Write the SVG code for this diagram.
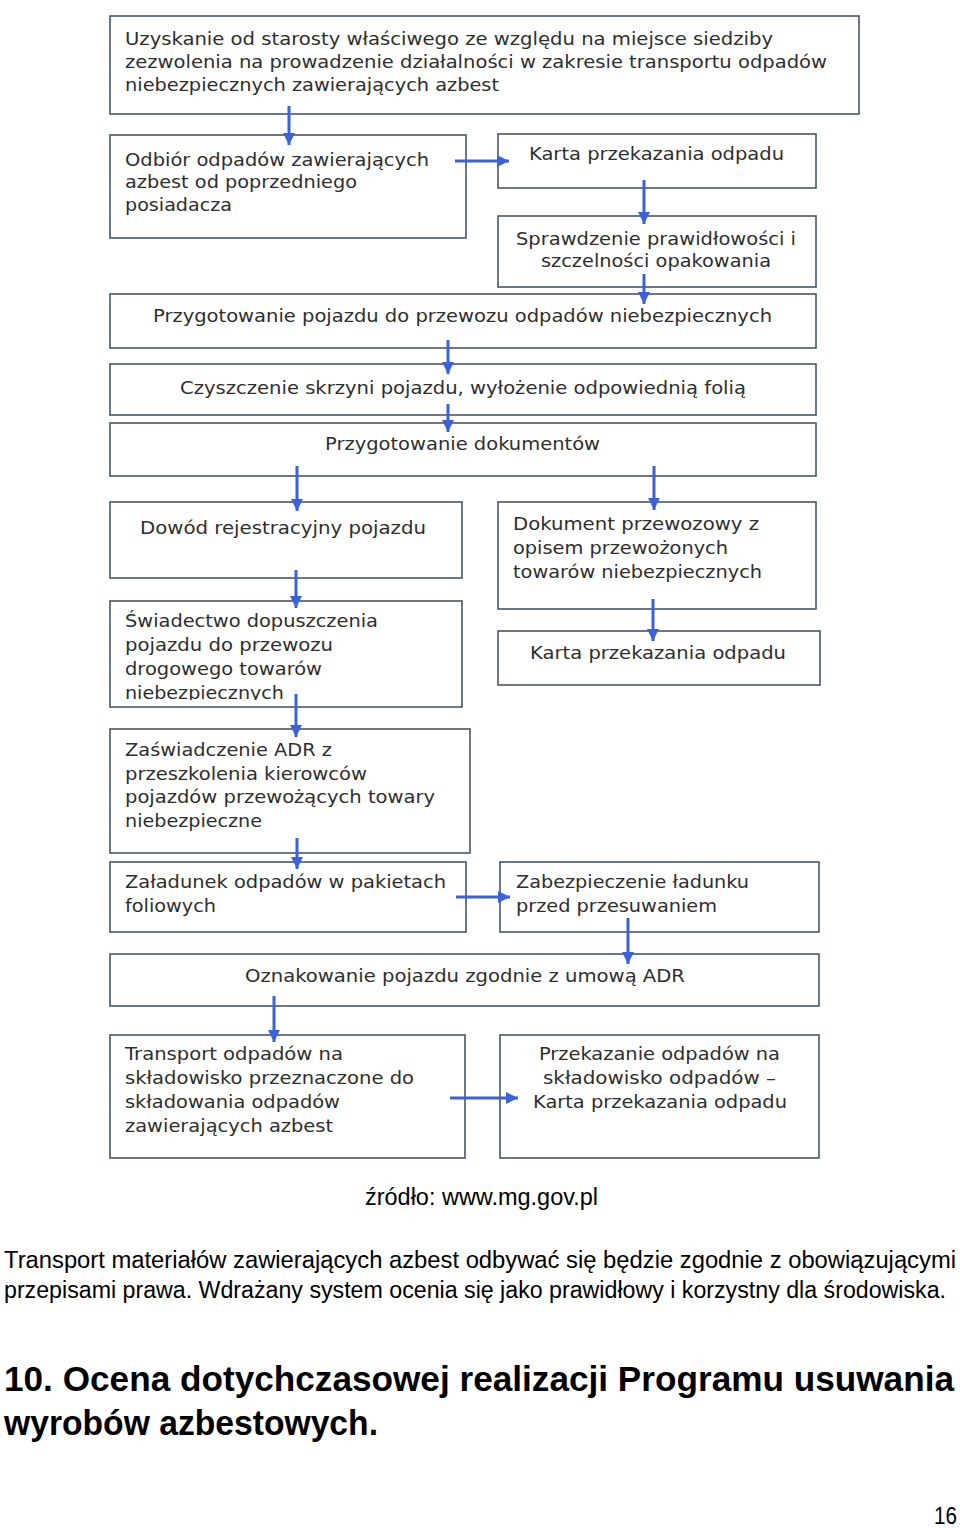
<svg xmlns="http://www.w3.org/2000/svg" width="960" height="1528" viewBox="0 0 960 1528">
<style>
.box{fill:#ffffff;stroke:#4a5668;stroke-width:1.6}
.t{font-family:"DejaVu Sans","Verdana",sans-serif;font-size:17.5px;fill:#2e2e2e}
.conn line{stroke:#3b62d6;stroke-width:3}
.p{font-family:"Liberation Sans",Arial,sans-serif;font-size:23px;fill:#000}
.h{font-family:"Liberation Sans",Arial,sans-serif;font-size:32px;font-weight:bold;fill:#000}
</style>
<defs>
<marker id="ah" markerUnits="userSpaceOnUse" markerWidth="12" markerHeight="12" refX="12" refY="6" orient="auto">
<path d="M0,0 L12,6 L0,12 z" fill="#3b62d6"/>
</marker>
<clipPath id="clipSw"><rect x="110" y="600" width="352" height="100"/></clipPath>
</defs>
<rect width="960" height="1528" fill="#ffffff"/>

<g id="n1"><rect class="box" x="110" y="16" width="749" height="98"/>
<text class="t" x="125" y="45" textLength="648" lengthAdjust="spacingAndGlyphs">Uzyskanie od starosty właściwego ze względu na miejsce siedziby</text>
<text class="t" x="125" y="68" textLength="702" lengthAdjust="spacingAndGlyphs">zezwolenia na prowadzenie działalności w zakresie transportu odpadów</text>
<text class="t" x="125" y="91" textLength="374" lengthAdjust="spacingAndGlyphs">niebezpiecznych zawierających azbest</text></g>

<g id="n2"><rect class="box" x="110" y="135" width="356" height="103"/>
<text class="t" x="125" y="166" textLength="304" lengthAdjust="spacingAndGlyphs">Odbiór odpadów zawierających</text>
<text class="t" x="125" y="188" textLength="232" lengthAdjust="spacingAndGlyphs">azbest od poprzedniego</text>
<text class="t" x="125" y="211" textLength="107" lengthAdjust="spacingAndGlyphs">posiadacza</text></g>

<g id="n3"><rect class="box" x="498" y="134" width="318" height="54"/>
<text class="t" x="529" y="160" textLength="255" lengthAdjust="spacingAndGlyphs">Karta przekazania odpadu</text></g>

<g id="n4"><rect class="box" x="498" y="216" width="318" height="71"/>
<text class="t" x="516" y="245" textLength="280" lengthAdjust="spacingAndGlyphs">Sprawdzenie prawidłowości i</text>
<text class="t" x="541" y="267" textLength="230" lengthAdjust="spacingAndGlyphs">szczelności opakowania</text></g>

<g id="n5"><rect class="box" x="110" y="294" width="706" height="54"/>
<text class="t" x="153" y="322" textLength="619" lengthAdjust="spacingAndGlyphs">Przygotowanie pojazdu do przewozu odpadów niebezpiecznych</text></g>

<g id="n6"><rect class="box" x="110" y="364" width="706" height="51"/>
<text class="t" x="180" y="394" textLength="566" lengthAdjust="spacingAndGlyphs">Czyszczenie skrzyni pojazdu, wyłożenie odpowiednią folią</text></g>

<g id="n7"><rect class="box" x="110" y="423" width="706" height="53"/>
<text class="t" x="325" y="450" textLength="275" lengthAdjust="spacingAndGlyphs">Przygotowanie dokumentów</text></g>

<g id="n8"><rect class="box" x="110" y="502" width="352" height="76"/>
<text class="t" x="140" y="534" textLength="286" lengthAdjust="spacingAndGlyphs">Dowód rejestracyjny pojazdu</text></g>

<g id="n9"><rect class="box" x="498" y="502" width="318" height="107"/>
<text class="t" x="513" y="530" textLength="246" lengthAdjust="spacingAndGlyphs">Dokument przewozowy z</text>
<text class="t" x="513" y="554" textLength="215" lengthAdjust="spacingAndGlyphs">opisem przewożonych</text>
<text class="t" x="513" y="578" textLength="249" lengthAdjust="spacingAndGlyphs">towarów niebezpiecznych</text></g>

<g id="n10"><rect class="box" x="498" y="631" width="322" height="54"/>
<text class="t" x="530" y="659" textLength="256" lengthAdjust="spacingAndGlyphs">Karta przekazania odpadu</text></g>

<g id="n11"><rect class="box" x="110" y="601" width="352" height="106"/>
<text class="t" x="125" y="627" textLength="253" lengthAdjust="spacingAndGlyphs">Świadectwo dopuszczenia</text>
<text class="t" x="125" y="651" textLength="208" lengthAdjust="spacingAndGlyphs">pojazdu do przewozu</text>
<text class="t" x="125" y="675" textLength="197" lengthAdjust="spacingAndGlyphs">drogowego towarów</text>
<text class="t" x="125" y="699" textLength="159" lengthAdjust="spacingAndGlyphs" clip-path="url(#clipSw)">niebezpiecznych</text></g>

<g id="n12"><rect class="box" x="110" y="729" width="360" height="124"/>
<text class="t" x="125" y="756" textLength="207" lengthAdjust="spacingAndGlyphs">Zaświadczenie ADR z</text>
<text class="t" x="125" y="780" textLength="242" lengthAdjust="spacingAndGlyphs">przeszkolenia kierowców</text>
<text class="t" x="125" y="803" textLength="310" lengthAdjust="spacingAndGlyphs">pojazdów przewożących towary</text>
<text class="t" x="125" y="827" textLength="137" lengthAdjust="spacingAndGlyphs">niebezpieczne</text></g>

<g id="n13"><rect class="box" x="110" y="862" width="356" height="70"/>
<text class="t" x="125" y="888" textLength="321" lengthAdjust="spacingAndGlyphs">Załadunek odpadów w pakietach</text>
<text class="t" x="125" y="912" textLength="91" lengthAdjust="spacingAndGlyphs">foliowych</text></g>

<g id="n14"><rect class="box" x="500" y="862" width="319" height="70"/>
<text class="t" x="516" y="888" textLength="233" lengthAdjust="spacingAndGlyphs">Zabezpieczenie ładunku</text>
<text class="t" x="516" y="912" textLength="201" lengthAdjust="spacingAndGlyphs">przed przesuwaniem</text></g>

<g id="n15"><rect class="box" x="110" y="954" width="709" height="52"/>
<text class="t" x="245" y="982" textLength="440" lengthAdjust="spacingAndGlyphs">Oznakowanie pojazdu zgodnie z umową ADR</text></g>

<g id="n16"><rect class="box" x="110" y="1035" width="355" height="123"/>
<text class="t" x="125" y="1060" textLength="218" lengthAdjust="spacingAndGlyphs">Transport odpadów na</text>
<text class="t" x="125" y="1084" textLength="289" lengthAdjust="spacingAndGlyphs">składowisko przeznaczone do</text>
<text class="t" x="125" y="1108" textLength="215" lengthAdjust="spacingAndGlyphs">składowania odpadów</text>
<text class="t" x="125" y="1132" textLength="208" lengthAdjust="spacingAndGlyphs">zawierających azbest</text></g>

<g id="n17"><rect class="box" x="500" y="1035" width="319" height="123"/>
<text class="t" x="539" y="1060" textLength="241" lengthAdjust="spacingAndGlyphs">Przekazanie odpadów na</text>
<text class="t" x="543" y="1084" textLength="233" lengthAdjust="spacingAndGlyphs">składowisko odpadów –</text>
<text class="t" x="533" y="1108" textLength="254" lengthAdjust="spacingAndGlyphs">Karta przekazania odpadu</text></g>

<g id="connectors" class="conn">
<line x1="289" y1="106" x2="289" y2="145" marker-end="url(#ah)"/>
<line x1="455" y1="161" x2="509" y2="161" marker-end="url(#ah)"/>
<line x1="644" y1="180" x2="644" y2="224" marker-end="url(#ah)"/>
<line x1="644" y1="274" x2="644" y2="304" marker-end="url(#ah)"/>
<line x1="448" y1="340" x2="448" y2="374" marker-end="url(#ah)"/>
<line x1="448" y1="404" x2="448" y2="432" marker-end="url(#ah)"/>
<line x1="297" y1="466" x2="297" y2="511" marker-end="url(#ah)"/>
<line x1="654" y1="466" x2="654" y2="510" marker-end="url(#ah)"/>
<line x1="296" y1="570" x2="296" y2="608" marker-end="url(#ah)"/>
<line x1="296" y1="694" x2="296" y2="737" marker-end="url(#ah)"/>
<line x1="297" y1="838" x2="297" y2="869" marker-end="url(#ah)"/>
<line x1="653" y1="599" x2="653" y2="641" marker-end="url(#ah)"/>
<line x1="456" y1="897" x2="510" y2="897" marker-end="url(#ah)"/>
<line x1="628" y1="918" x2="628" y2="964" marker-end="url(#ah)"/>
<line x1="274" y1="996" x2="274" y2="1042" marker-end="url(#ah)"/>
<line x1="450" y1="1098" x2="518" y2="1098" marker-end="url(#ah)"/>
</g>

<text class="p" x="365" y="1205" textLength="233" lengthAdjust="spacingAndGlyphs">źródło: www.mg.gov.pl</text>
<text class="p" x="4" y="1268" textLength="952" lengthAdjust="spacingAndGlyphs">Transport materiałów zawierających azbest odbywać się będzie zgodnie z obowiązującymi</text>
<text class="p" x="4" y="1298" textLength="942" lengthAdjust="spacingAndGlyphs">przepisami prawa. Wdrażany system ocenia się jako prawidłowy i korzystny dla środowiska.</text>
<text class="h" transform="translate(4,1391) scale(1,1.12)" x="0" y="0" textLength="950" lengthAdjust="spacingAndGlyphs">10. Ocena dotychczasowej realizacji Programu usuwania</text>
<text class="h" transform="translate(4,1435) scale(1,1.12)" x="0" y="0" textLength="374" lengthAdjust="spacingAndGlyphs">wyrobów azbestowych.</text>
<text class="p" x="934" y="1524" textLength="23" lengthAdjust="spacingAndGlyphs">16</text>
</svg>
